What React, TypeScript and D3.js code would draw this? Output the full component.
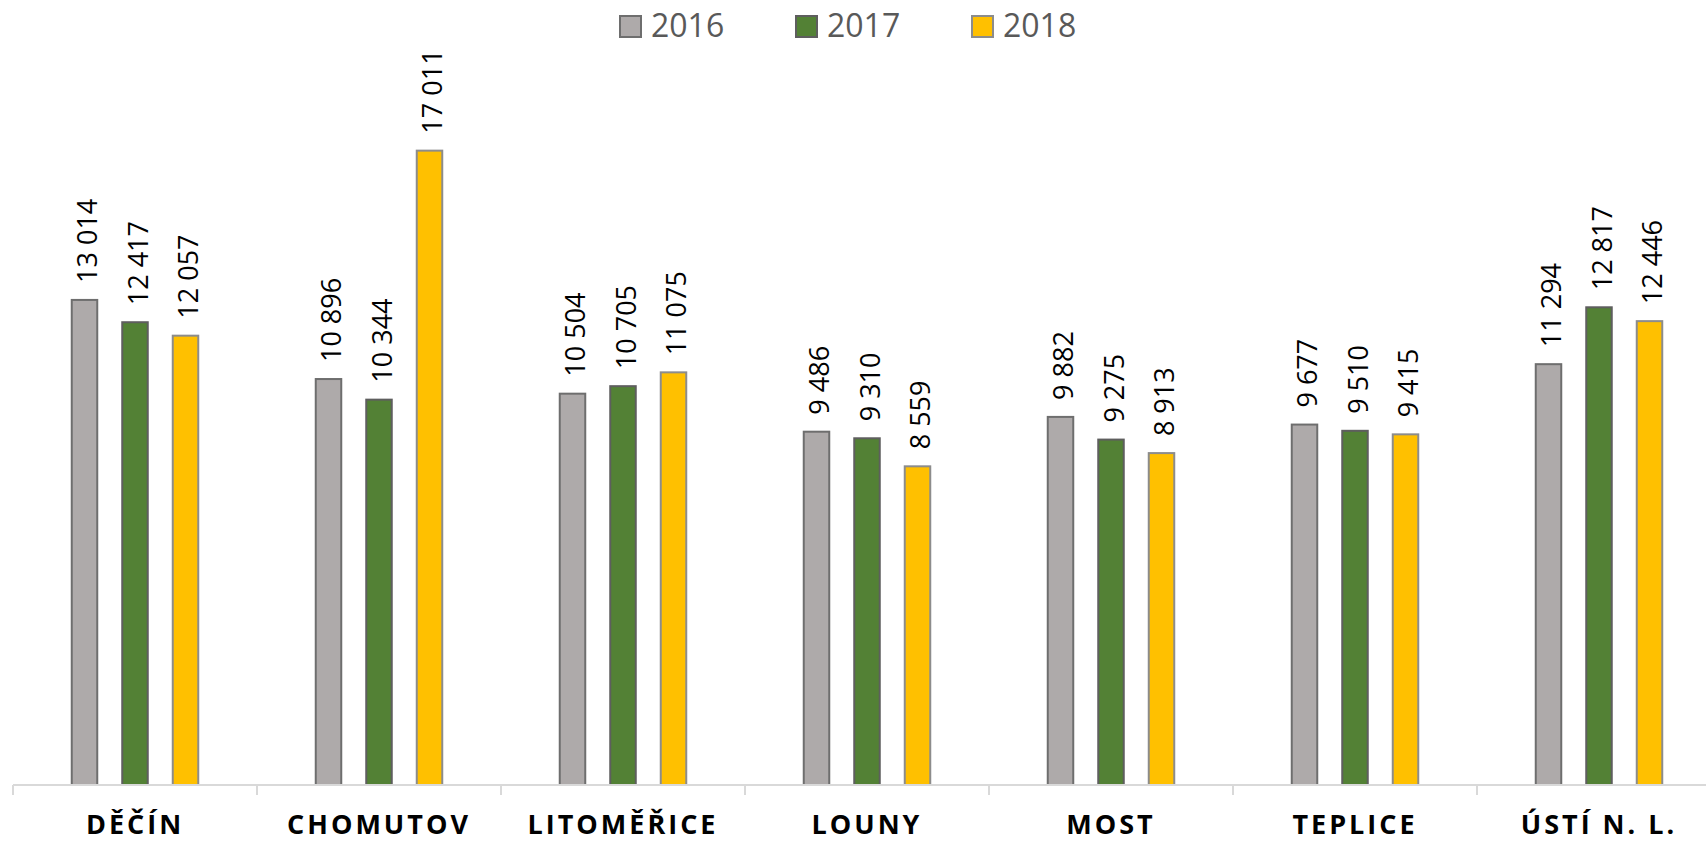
import React from "react";
import * as d3 from "d3";

const categories = ["DĚČÍN", "CHOMUTOV", "LITOMĚŘICE", "LOUNY", "MOST", "TEPLICE", "ÚSTÍ N. L."];
const seriesNames = ["2016", "2017", "2018"];
const values2016 = [13014, 10896, 10504, 9486, 9882, 9677, 11294];
const values2017 = [12417, 10344, 10705, 9310, 9275, 9510, 12817];
const values2018 = [12057, 17011, 11075, 8559, 8913, 9415, 12446];
const seriesValues = [values2016, values2017, values2018];
const fills = ["#AEAAAA", "#538135", "#FFC000"];
const strokes = ["#6E6E6E", "#5E5E5E", "#8C8C8C"];

const W = 1706;
const H = 842;
const baseY = 785;
const left = 13;
const catW = 244;

export default function App() {
  const x0 = d3.scaleBand<string>().domain(categories).range([left, left + catW * categories.length]).padding(0);
  const p = 0.4554;
  const x1 = d3.scaleBand<string>().domain(seriesNames).range([-75.75, 75.75]).paddingInner(p).paddingOuter(p / 2);
  const y = d3.scaleLinear().domain([0, 18000]).range([baseY, baseY - 18000 * 0.03735]);
  const fmt = (v: number) => d3.format(",")(v).replace(/,/g, " ");
  const font = "'Open Sans', 'DejaVu Sans', sans-serif";

  const legendX = [619, 795, 971];

  return (
    <svg width={W} height={H} style={{ position: "absolute", left: 0, top: 0, background: "#fff" }} fontFamily={font}>
      {/* legend */}
      {seriesNames.map((s, i) => (
        <g key={s}>
          <rect x={legendX[i] + 1} y={16} width={21} height={21} fill={fills[i]} stroke={strokes[i]} strokeWidth={2} />
          <text x={legendX[i] + 32} y={37} fontSize={32} fill="#595959">{s}</text>
        </g>
      ))}
      {/* bars */}
      {categories.map((c, ci) => {
        const cx = (x0(c) as number) + x0.bandwidth() / 2;
        return (
          <g key={c}>
            {seriesNames.map((s, si) => {
              const v = seriesValues[si][ci];
              const bx = cx + (x1(s) as number);
              const bw = x1.bandwidth();
              const ty = y(v);
              return (
                <g key={s}>
                  <rect x={bx + 1} y={ty + 1} width={bw - 2} height={baseY - ty - 1} fill={fills[si]} stroke={strokes[si]} strokeWidth={2} />
                  <text
                    transform={`translate(${bx + bw / 2 + 2},${ty - 16}) rotate(-90)`}
                    fontSize={27}
                    fill="#000"
                    dominantBaseline="central"
                    textAnchor="start"
                  >
                    {fmt(v)}
                  </text>
                </g>
              );
            })}
          </g>
        );
      })}
      {/* axis */}
      <line x1={left} x2={W} y1={baseY} y2={baseY} stroke="#D9D9D9" strokeWidth={2} />
      {d3.range(categories.length + 1).map((i) => (
        <line key={i} x1={left + catW * i} x2={left + catW * i} y1={baseY} y2={baseY + 10} stroke="#D9D9D9" strokeWidth={2} />
      ))}
      {categories.map((c) => (
        <text
          key={c}
          x={(x0(c) as number) + x0.bandwidth() / 2}
          y={834}
          textAnchor="middle"
          fontSize={27}
          fontWeight="bold"
          letterSpacing={3}
          fill="#000"
        >
          {c}
        </text>
      ))}
    </svg>
  );
}
